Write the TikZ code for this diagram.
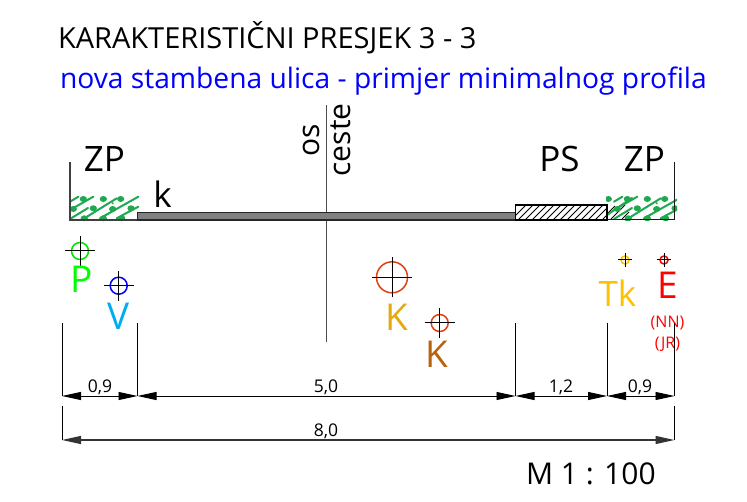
\documentclass[tikz,border=0pt]{standalone}
\usepackage{fontspec}
\setmainfont{Open Sans}
\usetikzlibrary{arrows.meta}
\definecolor{zpgreen}{HTML}{1FA84F}
\definecolor{kyellow}{HTML}{E3A90F}
\definecolor{kbrown}{HTML}{B9620E}
\definecolor{tkorange}{HTML}{FFC000}
\definecolor{kred}{HTML}{E04010}
\tikzset{
  x=1pt,y=-1pt,
  lbl/.style={inner sep=0pt,outer sep=0pt,anchor=base},
  big/.style={lbl,font=\fontsize{35}{35}\selectfont},
  util/.style={lbl,font=\fontsize{37}{37}\selectfont},
  small/.style={lbl,font=\fontsize{17.5}{17.5}\selectfont},
  tiny/.style={lbl,text=red,font=\fontsize{16}{16}\selectfont},
  dimline/.style={black,line width=0.9pt,{Triangle[length=19pt,width=8pt]}-{Triangle[length=19pt,width=8pt]}},
  dimlineb/.style={black!80,line width=1.3pt,{Triangle[length=19pt,width=8pt]}-{Triangle[length=19pt,width=8pt]}},
  ext/.style={black,line width=1pt},
  hair/.style={black,line width=1pt},
  axisline/.style={black!70,line width=1.2pt},
}
% utility symbol: circle with cross
\newcommand{\utilsym}[5]{%
  \coordinate (#1) at (#2,#3);
  \utilsymdraw{#1}{#4}{#5}}
\newcommand{\utilsymdraw}[3]{\def\symname{#1}\def\symr{#2}\def\symc{#3}\utilsymfin}
\newcommand{\utilsymfin}[1]{%
  \draw[#1,line width=1.5pt] (\symname) circle (\symr);
  \draw[hair] ([xshift=-\symc pt]\symname) -- ([xshift=\symc pt]\symname);
  \draw[hair] ([yshift=-\symc pt]\symname) -- ([yshift=\symc pt]\symname);}
% planted strip
\newcommand{\planted}[1]{%
  \begin{scope}[xshift=#1 pt,zpgreen]
    \foreach \a/\b/\c/\d in {70/210/93.3/196.7, 70/201.7/78.3/196.7, 81.7/220/116.7/198.3, 100/218.3/138.3/196.7, 116.7/218.3/138.3/206.7, 70/219/88/208}{
      \draw[line width=2pt,line cap=round] (\a,\b) -- (\c,\d);}
    \foreach \a/\b in {83.3/199, 103.3/199, 120.7/199, 73.3/209, 93.3/208.3, 112.7/209, 131/208.3, 84.3/218.3, 103.3/218.3, 121.7/218.3}{
      \fill (\a,\b) ellipse (3.6pt and 3pt);}
    \fill (112.7,203.3) circle (1.1pt);
  \end{scope}}
\begin{document}
\begin{tikzpicture}
\useasboundingbox (0,0) rectangle (747,502);
% titles
\node[lbl,anchor=base west,font=\fontsize{29}{29}\selectfont] (t1) at (58,49) {KARAKTERISTIČNI PRESJEK 3 - 3};
\node[lbl,anchor=base west,text=blue,font=\fontsize{28.2}{28.2}\selectfont] (t2) at (60,89) {nova stambena ulica - primjer minimalnog profila};
% axis
\coordinate (axT) at (326.7,105);
\coordinate (axB) at (326.7,342);
\draw[axisline] (axT) -- (axB);
\node[lbl,rotate=90,anchor=base,font=\fontsize{30}{30}\selectfont] (os) at (319,140) {os};
\node[lbl,rotate=90,anchor=base,font=\fontsize{30}{30}\selectfont] (ceste) at (350,140) {ceste};
% sidewalk hatch
\begin{scope}
  \clip (515.5,205) rectangle (607,220);
  \foreach \i in {0,...,14}{
    \draw[black,line width=0.8pt] (510+\i*7,221) -- (527+\i*7,204);}
\end{scope}
\draw[black,line width=0.9pt] (611,219) -- (625,205);
\draw[black,line width=0.9pt] (607,214) -- (615,206);
\draw[black,line width=0.9pt] (622,219) -- (629,212);
% planted strips
\planted{0}
\begin{scope}
  \clip (606,190) rectangle (677,221);
  \planted{544}
  \begin{scope}[zpgreen]
    \draw[line width=2pt,line cap=round] (607,215) -- (632,198);
    \fill (608.3,199) ellipse (3.6pt and 3pt);
  \end{scope}
\end{scope}
% edges
\draw[black!75,line width=1.2pt] (70,162) -- (70,220) -- (137,220);
\draw[black!90,line width=1pt] (674.5,162) -- (674.5,220) -- (607,220);
% road
\draw[black!85,fill=black!50,line width=1.2pt] (137.5,212.5) rectangle (515.5,220);
\draw[black,line width=1.1pt] (515.5,205) rectangle (607,220);
% profile labels
\node[big] (zp1) at (104.5,172) {ZP};
\node[big] (k0) at (162.5,208) {k};
\node[big] (ps) at (559.5,172) {PS};
\node[big] (zp2) at (644.5,172) {ZP};
% utilities
\utilsym{sP}{80}{251}{8.5}{15}{green!90!black}
\utilsym{sV}{118.7}{285.7}{8.5}{15}{blue}
\utilsym{sK}{392}{277.3}{15.5}{20}{kred}
\utilsym{sKb}{439.7}{323}{8.5}{15}{kred}
\utilsym{sT}{625}{260}{4}{7}{tkorange}
\utilsym{sE}{664}{260}{4}{7}{red}
\node[util,text=green] (P) at (82,293) {P};
\node[util,text=cyan] (V) at (118.5,330) {V};
\node[util,text=kyellow] (K) at (397,331) {K};
\node[util,text=kbrown] (Kb) at (437,368) {K};
\node[util,text=tkorange,font=\fontsize{35}{35}\selectfont] (Tk) at (617.5,307) {Tk};
\node[util,text=red] (E) at (667.5,299) {E};
\node[tiny] (NN) at (667.5,328) {(NN)};
\node[tiny] (JR) at (667.5,349) {(JR)};
% dimension anchors
\coordinate (d1t) at (62,323);   \coordinate (d1) at (62,396);
\coordinate (d2t) at (137.5,323);\coordinate (d2) at (137.5,396);
\coordinate (d3t) at (515.5,323);\coordinate (d3) at (515.5,396);
\coordinate (d4t) at (607,323);  \coordinate (d4) at (607,396);
\coordinate (d5t) at (674.5,323);\coordinate (d5) at (674.5,396);
\coordinate (e1t) at (62,406);   \coordinate (e1) at (62,440);
\coordinate (e2t) at (674.5,406);\coordinate (e2) at (674.5,440);
\foreach \p in {d1,d2,d3,d4,d5,e1,e2}{\draw[ext] (\p t) -- (\p);}
\draw[dimline] (d1) -- (d2);
\draw[dimline] (d2) -- (d3);
\draw[dimline] (d3) -- (d4);
\draw[dimline] (d4) -- (d5);
\draw[dimlineb] (e1) -- (e2);
\node[small] (l1) at (100,393) {0,9};
\node[small] (l2) at (326,393) {5,0};
\node[small] (l3) at (561,393) {1,2};
\node[small] (l4) at (640,393) {0,9};
\node[small] (l5) at (326,436) {8,0};
\node[lbl,anchor=base west,font=\fontsize{30}{30}\selectfont] (m) at (526,484) {M 1 : 100};
\end{tikzpicture}
\end{document}
